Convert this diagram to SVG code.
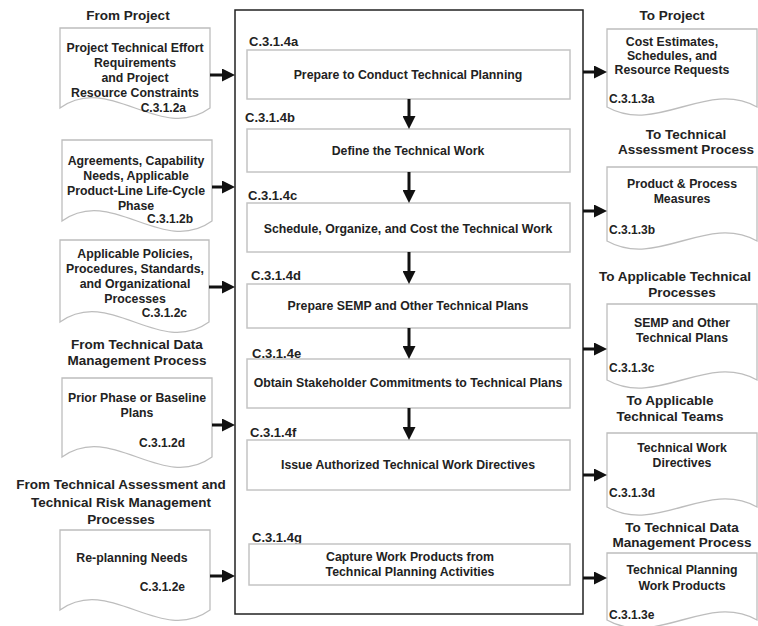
<svg xmlns="http://www.w3.org/2000/svg" width="758" height="626" viewBox="0 0 758 626">
<defs>
<style>
text{font-family:"Liberation Sans",Arial,sans-serif;font-weight:bold;fill:#222}
.t{font-size:13.5px;text-anchor:middle}
.b{font-size:12.3px;text-anchor:middle}
.id{font-size:12px}
.pid{font-size:13px}
.doc{fill:#fff;stroke:#bdbdbd;stroke-width:1.3}
.proc{fill:#fff;stroke:#c4c4c4;stroke-width:1.5}
.main{fill:#fff;stroke:#222;stroke-width:1.5}
.arr{stroke:#111;stroke-width:3;fill:none;marker-end:url(#ah)}
</style>
<marker id="ah" markerUnits="userSpaceOnUse" markerWidth="13" markerHeight="13" refX="4" refY="6.5" orient="auto">
<path d="M0,0 L13,6.5 L0,13 z" fill="#111"/>
</marker>
</defs>
<rect width="758" height="626" fill="#fff"/>
<g id="main-box"><rect class="main" x="235" y="10" width="348" height="604"/></g>

<g id="in1">
<text class="t" x="128" y="20">From Project</text>
<path class="doc" d="M60,28 H210 V108 C160,144 110,72 60,108 Z"/>
<text class="b" x="135" y="52">Project Technical Effort</text>
<text class="b" x="135" y="67">Requirements</text>
<text class="b" x="135" y="82">and Project</text>
<text class="b" x="135" y="97">Resource Constraints</text>
<text class="id" x="186" y="112" text-anchor="end">C.3.1.2a</text>
</g>
<g id="in2">
<path class="doc" d="M62,140 H212 V221 C162,257 112,185 62,221 Z"/>
<text class="b" x="136" y="165">Agreements, Capability</text>
<text class="b" x="136" y="180">Needs, Applicable</text>
<text class="b" x="136" y="195">Product-Line Life-Cycle</text>
<text class="b" x="136" y="210">Phase</text>
<text class="id" x="193" y="223" text-anchor="end">C.3.1.2b</text>
</g>
<g id="in3">
<path class="doc" d="M60,240 H209 V322 C159,358 110,286 60,322 Z"/>
<text class="b" x="135" y="258">Applicable Policies,</text>
<text class="b" x="135" y="273">Procedures, Standards,</text>
<text class="b" x="135" y="288">and Organizational</text>
<text class="b" x="135" y="303">Processes</text>
<text class="id" x="187" y="317" text-anchor="end">C.3.1.2c</text>
</g>
<g id="in4">
<text class="t" x="137" y="349">From Technical Data</text>
<text class="t" x="137" y="365">Management Process</text>
<path class="doc" d="M62,378 H212 V457 C162,493 112,421 62,457 Z"/>
<text class="b" x="137" y="402">Prior Phase or Baseline</text>
<text class="b" x="137" y="417">Plans</text>
<text class="id" x="185" y="447" text-anchor="end">C.3.1.2d</text>
</g>
<g id="in5">
<text class="t" x="121" y="489">From Technical Assessment and</text>
<text class="t" x="121" y="507">Technical Risk Management</text>
<text class="t" x="121" y="524">Processes</text>
<path class="doc" d="M60,530 H210 V610 C160,646 110,574 60,610 Z"/>
<text class="b" x="132" y="562">Re-planning Needs</text>
<text class="id" x="185" y="591" text-anchor="end">C.3.1.2e</text>
</g>

<g id="p-a">
<text class="pid" x="249" y="46">C.3.1.4a</text>
<rect class="proc" x="247" y="50" width="323" height="49"/>
<text class="b" x="408" y="79">Prepare to Conduct Technical Planning</text>
</g>
<g id="p-b">
<text class="pid" x="245" y="122">C.3.1.4b</text>
<rect class="proc" x="247" y="129" width="323" height="43"/>
<text class="b" x="408" y="155">Define the Technical Work</text>
</g>
<g id="p-c">
<text class="pid" x="248" y="200">C.3.1.4c</text>
<rect class="proc" x="247" y="203" width="323" height="49"/>
<text class="b" x="408" y="233">Schedule, Organize, and Cost the Technical Work</text>
</g>
<g id="p-d">
<text class="pid" x="251" y="280">C.3.1.4d</text>
<rect class="proc" x="247" y="284" width="323" height="44"/>
<text class="b" x="408" y="310">Prepare SEMP and Other Technical Plans</text>
</g>
<g id="p-e">
<text class="pid" x="252" y="358">C.3.1.4e</text>
<rect class="proc" x="247" y="359" width="323" height="49"/>
<text class="b" x="408" y="387">Obtain Stakeholder Commitments to Technical Plans</text>
</g>
<g id="p-f">
<text class="pid" x="250" y="437">C.3.1.4f</text>
<rect class="proc" x="247" y="440" width="323" height="50"/>
<text class="b" x="408" y="469">Issue Authorized Technical Work Directives</text>
</g>
<g id="p-g">
<text class="pid" x="252" y="542">C.3.1.4g</text>
<rect class="proc" x="249" y="544" width="321" height="41"/>
<text class="b" x="410" y="561">Capture Work Products from</text>
<text class="b" x="410" y="576">Technical Planning Activities</text>
</g>

<g id="out1">
<text class="t" x="672" y="20">To Project</text>
<path class="doc" d="M607,29 H757 V107 C707,79 657,135 607,107 Z"/>
<text class="b" x="672" y="46">Cost Estimates,</text>
<text class="b" x="672" y="60">Schedules, and</text>
<text class="b" x="672" y="74">Resource Requests</text>
<text class="id" x="609" y="103">C.3.1.3a</text>
</g>
<g id="out2">
<text class="t" x="686" y="139">To Technical</text>
<text class="t" x="686" y="154">Assessment Process</text>
<path class="doc" d="M607,167 H757 V241 C707,213 657,269 607,241 Z"/>
<text class="b" x="682" y="188">Product &amp; Process</text>
<text class="b" x="682" y="203">Measures</text>
<text class="id" x="609" y="234">C.3.1.3b</text>
</g>
<g id="out3">
<text class="t" x="675" y="281">To Applicable Technical</text>
<text class="t" x="682" y="297">Processes</text>
<path class="doc" d="M607,304 H757 V380 C707,352 657,408 607,380 Z"/>
<text class="b" x="682" y="327">SEMP and Other</text>
<text class="b" x="682" y="342">Technical Plans</text>
<text class="id" x="609" y="372">C.3.1.3c</text>
</g>
<g id="out4">
<text class="t" x="670" y="405">To Applicable</text>
<text class="t" x="670" y="421">Technical Teams</text>
<path class="doc" d="M607,433 H757 V507 C707,479 657,535 607,507 Z"/>
<text class="b" x="682" y="452">Technical Work</text>
<text class="b" x="682" y="467">Directives</text>
<text class="id" x="609" y="497">C.3.1.3d</text>
</g>
<g id="out5">
<text class="t" x="682" y="532">To Technical Data</text>
<text class="t" x="682" y="547">Management Process</text>
<path class="doc" d="M607,553 H757 V620 C707,592 657,648 607,620 Z"/>
<text class="b" x="682" y="574">Technical Planning</text>
<text class="b" x="682" y="590">Work Products</text>
<text class="id" x="609" y="619">C.3.1.3e</text>
</g>

<g id="connectors">
<line class="arr" x1="210" y1="75" x2="226" y2="75"/>
<line class="arr" x1="212" y1="187" x2="226" y2="187"/>
<line class="arr" x1="209" y1="287" x2="226" y2="287"/>
<line class="arr" x1="212" y1="425" x2="226" y2="425"/>
<line class="arr" x1="210" y1="576" x2="226" y2="576"/>
<line class="arr" x1="409" y1="99" x2="409" y2="120"/>
<line class="arr" x1="409" y1="172" x2="409" y2="194"/>
<line class="arr" x1="409" y1="252" x2="409" y2="275"/>
<line class="arr" x1="409" y1="328" x2="409" y2="350"/>
<line class="arr" x1="409" y1="408" x2="409" y2="431"/>
<line class="arr" x1="583" y1="72" x2="598" y2="72"/>
<line class="arr" x1="583" y1="211" x2="598" y2="211"/>
<line class="arr" x1="583" y1="349" x2="598" y2="349"/>
<line class="arr" x1="583" y1="475" x2="598" y2="475"/>
<line class="arr" x1="583" y1="578" x2="598" y2="578"/>
</g>
</svg>
